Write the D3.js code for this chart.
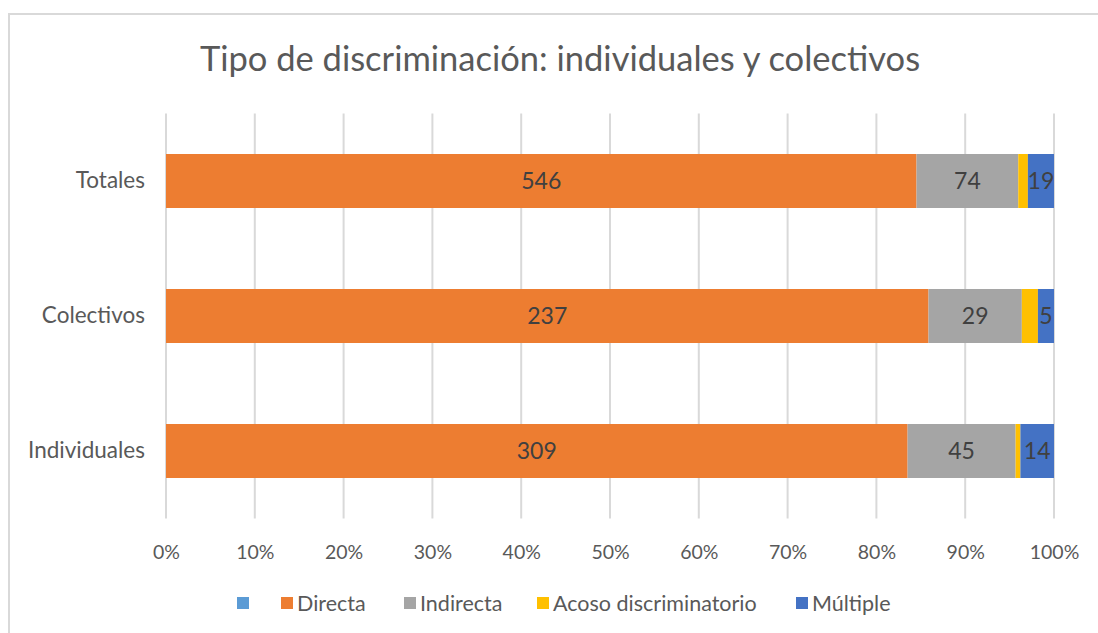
<!DOCTYPE html>
<html>
<head>
<meta charset="utf-8">
<script src="https://cdn.jsdelivr.net/npm/d3@7"></script>
<style>
  body { margin: 0; background: #fff; }
  text { font-family: Lato, "Open Sans", sans-serif; }
</style>
</head>
<body>
<div id="chart"></div>
<script>
// data
var categories = ["Totales", "Colectivos", "Individuales"];
var seriesNames = ["", "Directa", "Indirecta", "Acoso discriminatorio", "Múltiple"];
var seriesColors = ["#5b9bd5", "#ed7d31", "#a5a5a5", "#ffc000", "#4472c4"];
var blank = [0, 0, 0];
var directa = [546, 237, 309];
var indirecta = [74, 29, 45];
var acoso = [7, 5, 2];
var multiple = [19, 5, 14];
var showLabel = [false, true, true, false, true];
var xTicks = [0, 0.1, 0.2, 0.3, 0.4, 0.5, 0.6, 0.7, 0.8, 0.9, 1];

var W = 1098, H = 633;
var margin = {top: 113.5, right: 44, bottom: 114.5, left: 166};
var width = W - margin.left - margin.right,
    height = H - margin.top - margin.bottom;

var svg = d3.select("#chart").append("svg")
    .attr("width", W)
    .attr("height", H);

// chart area border (runs off the right/bottom edge)
svg.append("rect")
    .attr("x", 9).attr("y", 14)
    .attr("width", 1200).attr("height", 700)
    .attr("fill", "#fff")
    .attr("stroke", "#d9d9d9")
    .attr("stroke-width", 2);

svg.append("text")
    .attr("x", 560).attr("y", 71)
    .attr("text-anchor", "middle")
    .attr("font-size", 34.5)
    .attr("fill", "#595959")
    .text("Tipo de discriminación: individuales y colectivos");

var g = svg.append("g")
    .attr("transform", "translate(" + margin.left + "," + margin.top + ")");

var table = categories.map(function (c, i) {
    var vals = [blank[i], directa[i], indirecta[i], acoso[i], multiple[i]];
    var total = d3.sum(vals);
    var row = {cat: c, total: total};
    seriesNames.forEach(function (s, j) { row["s" + j] = vals[j] / total; row["v" + j] = vals[j]; });
    return row;
});

var keys = seriesNames.map(function (s, j) { return "s" + j; });
var stacked = d3.stack().keys(keys)(table);

var x = d3.scaleLinear().domain([0, 1]).range([0, width]);
var y = d3.scaleBand().domain(categories).range([0, height])
    .paddingInner(0.6).paddingOuter(0.3);

// gridlines
g.append("g")
    .selectAll("line")
    .data(xTicks)
    .enter().append("line")
    .attr("x1", function (d) { return x(d); })
    .attr("x2", function (d) { return x(d); })
    .attr("y1", 0).attr("y2", height)
    .attr("stroke", "#d9d9d9")
    .attr("stroke-width", 2);

// x axis labels
var xAxis = g.append("g")
    .attr("transform", "translate(0," + height + ")")
    .call(d3.axisBottom(x).tickValues(xTicks).tickFormat(d3.format(".0%")).tickSize(0).tickPadding(27));
xAxis.select(".domain").remove();
xAxis.selectAll("text").attr("font-size", 19.5).attr("fill", "#595959")
    .style("font-family", "Lato, 'Open Sans', sans-serif");

// y axis labels
var yAxis = g.append("g")
    .call(d3.axisLeft(y).tickSize(0).tickPadding(21));
yAxis.select(".domain").remove();
yAxis.selectAll("text").attr("font-size", 22.5).attr("fill", "#595959")
    .style("font-family", "Lato, 'Open Sans', sans-serif");

// bars
var layers = g.selectAll(".layer")
    .data(stacked)
    .enter().append("g")
    .attr("class", "layer")
    .attr("fill", function (d, i) { return seriesColors[i]; });

layers.selectAll("rect")
    .data(function (d) { return d; })
    .enter().append("rect")
    .attr("x", function (d) { return x(d[0]); })
    .attr("width", function (d) { return x(d[1]) - x(d[0]); })
    .attr("y", function (d) { return y(d.data.cat); })
    .attr("height", y.bandwidth());

// data labels
layers.each(function (layer, i) {
    if (!showLabel[i]) return;
    d3.select(this).selectAll("text")
        .data(layer)
        .enter().append("text")
        .attr("x", function (d) { return (x(d[0]) + x(d[1])) / 2; })
        .attr("y", function (d) { return y(d.data.cat) + y.bandwidth() / 2; })
        .attr("dy", "0.35em")
        .attr("text-anchor", "middle")
        .attr("font-size", 23)
        .attr("fill", "#404040")
        .text(function (d) { return d.data["v" + i]; });
});

// legend
var legendX = [237, 281, 404, 537, 796];
var legend = svg.append("g").attr("transform", "translate(0,603)");
var items = legend.selectAll("g")
    .data(seriesNames)
    .enter().append("g")
    .attr("transform", function (d, i) { return "translate(" + legendX[i] + ",0)"; });
items.append("rect")
    .attr("x", 0).attr("y", -6)
    .attr("width", 12).attr("height", 12)
    .attr("fill", function (d, i) { return seriesColors[i]; });
items.append("text")
    .attr("x", 16).attr("dy", "0.35em")
    .attr("font-size", 21.5)
    .attr("fill", "#595959")
    .text(function (d) { return d; });
</script>
</body>
</html>
